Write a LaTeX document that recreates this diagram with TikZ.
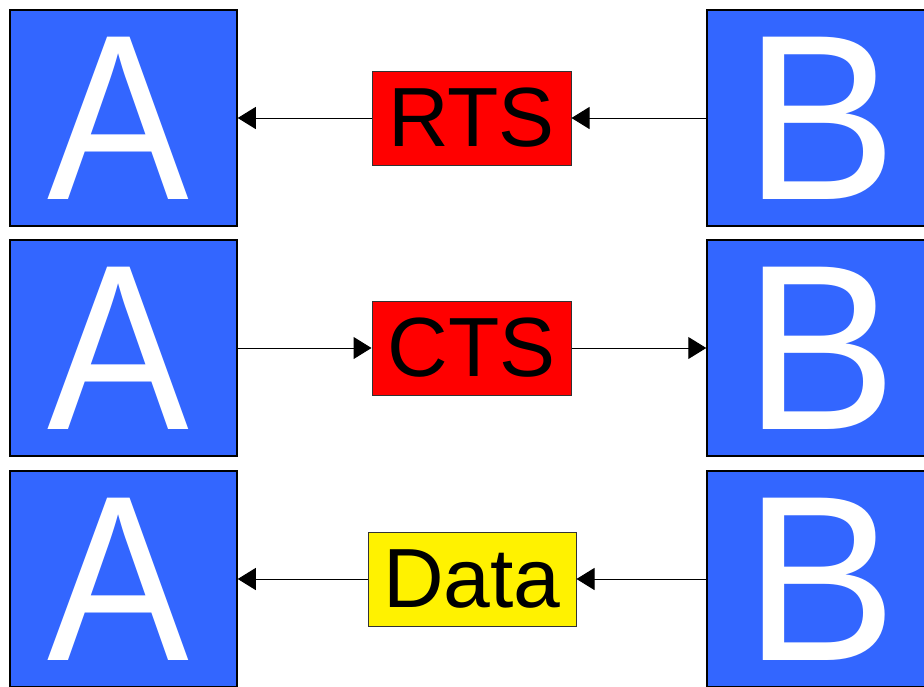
\documentclass[tikz,border=0pt]{standalone}
\usepackage{fontspec}
\setmainfont{Liberation Sans}
\usetikzlibrary{arrows.meta}
\definecolor{boxblue}{HTML}{3366FF}
\tikzset{
  station/.style={draw=black, line width=1.5pt, fill=boxblue,
    minimum width=227pt, minimum height=216pt, inner sep=0pt},
  letter/.style={text=white, inner sep=0pt,
    font=\fontsize{236}{236}\selectfont},
  frame/.style={draw=black!80, line width=1pt, inner sep=0pt,
    minimum height=94pt, font=\fontsize{84}{84}\selectfont},
  link/.style={line width=1pt, -{Triangle[length=18pt,width=22pt]}}
}
\begin{document}
\begin{tikzpicture}[x=1pt,y=-1pt]
\useasboundingbox (0,0) rectangle (924,686);
\clip (0,0) rectangle (924,686);
% stations A (left) and B (right), three rows
\node[station] (a1) at (123.5,118) {};
\node[station] (a2) at (123.5,348) {};
\node[station] (a3) at (123.5,579) {};
\node[station] (b1) at (820.5,118) {};
\node[station] (b2) at (820.5,348) {};
\node[station] (b3) at (820.5,579) {};
% station letters
\foreach \s in {a1,a2,a3}
  \node[letter, xshift=-5pt] (\s-name) at (\s.center) {\scalebox{0.9}[1]{A}};
\foreach \s in {b1,b2,b3}
  \node[letter, xshift=0.5pt] (\s-name) at (\s.center) {\scalebox{0.97}[1]{B}};
% control and data frames
\node[frame, fill=red, minimum width=199pt] (rts) at (471.5,118) {RTS};
\node[frame, fill=red, minimum width=199pt] (cts) at (471.5,348) {CTS};
\node[frame, fill=yellow, minimum width=208pt] (data) at (472,579) {Data};
% message flow
\draw[link] (b1.west) -- (rts.east);
\draw[link] (rts.west) -- (a1.east);
\draw[link] (a2.east) -- (cts.west);
\draw[link] (cts.east) -- (b2.west);
\draw[link] (b3.west) -- (data.east);
\draw[link] (data.west) -- (a3.east);
\end{tikzpicture}
\end{document}
